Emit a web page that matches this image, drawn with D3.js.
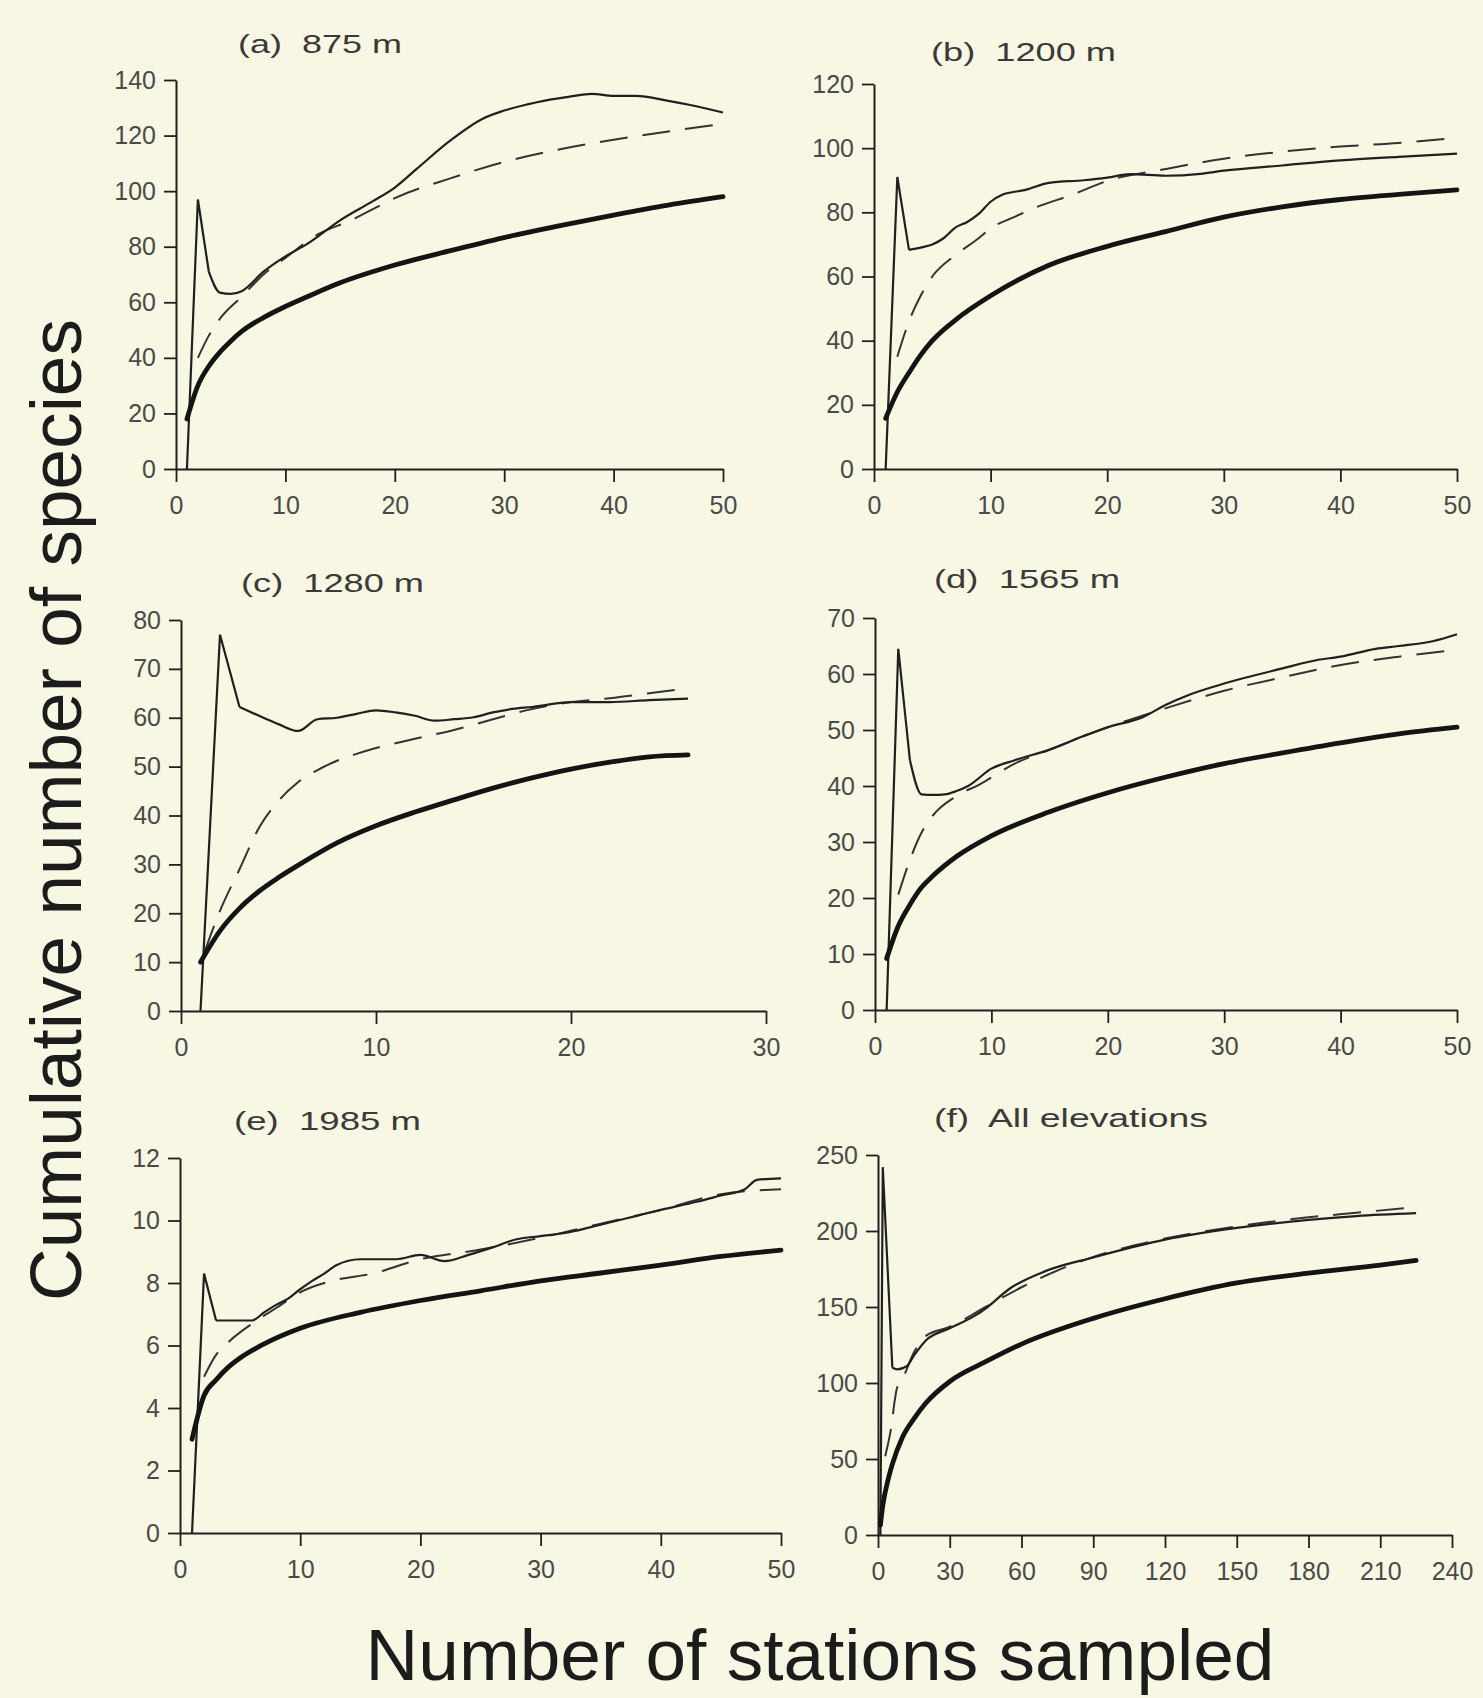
<!DOCTYPE html>
<html>
<head>
<meta charset="utf-8">
<script src="https://cdn.jsdelivr.net/npm/d3@7"></script>
<style>
  html, body { margin: 0; padding: 0; background: #f8f7e4; }
  svg { display: block; }
  text { font-family: "Liberation Sans", Arial, Helvetica, sans-serif; }
</style>
</head>
<body>
<svg id="chart" width="1483" height="1698"></svg>
<script>
// ---------------- DATA ----------------
const panelTitles = ["(a)  875 m", "(b)  1200 m", "(c)  1280 m", "(d)  1565 m", "(e)  1985 m", "(f)  All elevations"];
const yLabel = "Cumulative number of species";
const xLabel = "Number of stations sampled";

const yTicksA = [0, 20, 40, 60, 80, 100, 120, 140];
const yTicksB = [0, 20, 40, 60, 80, 100, 120];
const yTicksC = [0, 10, 20, 30, 40, 50, 60, 70, 80];
const yTicksD = [0, 10, 20, 30, 40, 50, 60, 70];
const yTicksE = [0, 2, 4, 6, 8, 10, 12];
const yTicksF = [0, 50, 100, 150, 200, 250];
const xTicks50 = [0, 10, 20, 30, 40, 50];
const xTicksC = [0, 10, 20, 30];
const xTicksF = [0, 30, 60, 90, 120, 150, 180, 210, 240];

// (a) 875 m : [stations, species]
const aObserved = [[1,18],[2,30],[3,37],[4,42],[5,46],[6,49.5],[8,54.5],[10,58.5],[12,62],[15,67],[20,73.4],[25,78.5],[30,83.3],[35,87.5],[40,91.4],[45,95],[50,98]];
const aEstimA   = [[1,0],[2,97],[3,71],[4,63.5],[5,63],[6,64],[8,71],[10,76.5],[12,81],[15,89.5],[18,96.4],[20,101.3],[22,108],[25,118],[28,126],[30,129],[33,132],[36,134],[38,135],[40,134.3],[42,134.3],[45,132.5],[47,131],[50,128.3]];
const aEstimB   = [[2,40],[3,48],[4,54],[6,62],[8,70],[10,76],[13,84.5],[16,89.5],[18,93.5],[20,97.5],[25,104.5],[30,110.5],[35,115],[40,118.5],[45,121.5],[50,124.2]];

// (b) 1200 m
const bObserved = [[1,15.8],[2,24],[3,30],[4,35.5],[5,40],[7,46.5],[10,54],[15,63.5],[20,69.4],[25,74],[30,78.5],[35,81.7],[40,84],[45,85.6],[50,87]];
const bEstimA   = [[1,0],[2,91],[3,68.3],[4,69],[5,70],[6,72],[7,75.3],[8,77],[9,79.6],[10,83.3],[11,85.5],[13,87],[15,89.2],[18,90],[20,90.8],[22,91.9],[25,91.4],[28,92],[30,93],[35,94.6],[40,96.2],[45,97.3],[50,98.3]];
const bEstimB   = [[2,35],[3,46],[4,54],[5,60],[7,66.7],[9,72],[10,75],[12,78.5],[14,81.7],[17,85.5],[20,89.8],[25,93.5],[30,96.7],[35,98.9],[40,100.5],[45,101.6],[50,103.2]];

// (c) 1280 m
const cObserved = [[1,10],[2,16.4],[3,21],[4,24.5],[5,27.3],[6,29.8],[8,34.4],[10,37.9],[12,40.7],[14,43.2],[16,45.6],[18,47.7],[20,49.5],[22,50.9],[24,52],[26,52.4]];
const cEstimA   = [[1,0],[2,77],[3,62.2],[4,60.4],[5,58.7],[6,57.3],[7,59.7],[8,60],[9,60.8],[10,61.5],[11,61.1],[12,60.4],[13,59.4],[14,59.7],[15,60.1],[16,61.1],[17,61.8],[18,62.2],[20,63.2],[22,63.2],[24,63.6],[26,63.9]];
const cEstimB   = [[1.2,12],[2,20.5],[3,29],[4,37.5],[5,43],[6,46.8],[7,49.3],[8,51.2],[9,52.6],[10,53.8],[12,55.7],[14,57.5],[16,59.7],[18,61.8],[20,63.2],[22,64],[24,65],[26,66]];

// (d) 1565 m
const dObserved = [[1,9.2],[2,15],[3,18.8],[4,21.9],[5,24],[7,27.4],[10,31.1],[15,35.4],[20,38.8],[25,41.6],[30,44],[35,45.9],[40,47.7],[45,49.3],[50,50.5]];
const dEstimA   = [[1,0],[2,64.5],[3,44.6],[4,38.5],[5,38.4],[6,38.5],[7,39.1],[8,40],[10,43.1],[12,44.6],[15,46.5],[18,49],[20,50.5],[23,52.3],[25,54.5],[27,56.3],[30,58.3],[35,61],[38,62.5],[40,63.1],[43,64.5],[45,65],[48,65.9],[50,67.1]];
const dEstimB   = [[2,20.6],[3,26.8],[4,31.7],[5,34.8],[7,38.2],[9,40.3],[12,44],[15,46.5],[20,50.5],[25,53.9],[30,57],[35,59.4],[40,61.6],[45,63.1],[50,64.3]];

// (e) 1985 m
const eObserved = [[1,3.0],[2,4.4],[3,4.9],[4,5.3],[5,5.6],[7,6.05],[10,6.55],[15,7.06],[20,7.44],[25,7.75],[30,8.07],[35,8.32],[40,8.57],[45,8.85],[50,9.05]];
const eEstimA   = [[1,0],[2,8.3],[3,6.8],[4,6.8],[5,6.8],[6,6.8],[7,7.06],[8,7.3],[9,7.5],[10,7.8],[11,8.07],[12,8.3],[13,8.57],[15,8.76],[18,8.76],[20,8.9],[22,8.7],[24,8.9],[26,9.14],[28,9.4],[30,9.5],[32,9.6],[34,9.77],[36,9.96],[38,10.15],[40,10.34],[43,10.6],[45,10.8],[47,11.0],[48,11.3],[50,11.35]];
const eEstimB   = [[2,5.0],[3,5.7],[4,6.1],[6,6.7],[8,7.2],[10,7.7],[13,8.1],[16,8.3],[20,8.76],[25,9.07],[30,9.45],[35,9.9],[40,10.34],[45,10.84],[50,11.0]];

// (f) All elevations
const fObserved = [[1,6.5],[2,19.4],[4,35],[6,46.6],[10,63.5],[15,76.4],[20,86.8],[30,101],[45,114],[60,125.6],[90,142.5],[120,155.4],[150,165.8],[180,172.3],[210,177.5],[225,180.6]];
const fEstimA   = [[1,0],[2,242],[6,110],[8,109],[12,111],[15,118],[20,128],[30,136],[40,143.8],[45,149],[55,162],[70,173.6],[90,182.6],[120,194.3],[150,202],[180,207.3],[200,209.8],[225,211.7]];
const fEstimB   = [[3,51.8],[5,66],[8,97],[10,102],[15,120],[20,131],[30,137],[45,150],[60,163],[90,183],[120,195],[150,203],[180,209],[200,212],[225,215.8]];

// ---------------- LAYOUT ----------------
const panels = [
  { title: panelTitles[0], tx: 238, ty: 53,  tw: 164, xd: [0,50],  yd: [0,140], xt: xTicks50, yt: yTicksA, x0: 176, x1: 723,  y0: 469,  y1: 80,   obs: aObserved, ea: aEstimA, eb: aEstimB },
  { title: panelTitles[1], tx: 931, ty: 61,  tw: 185, xd: [0,50],  yd: [0,120], xt: xTicks50, yt: yTicksB, x0: 874, x1: 1457, y0: 469,  y1: 84,   obs: bObserved, ea: bEstimA, eb: bEstimB },
  { title: panelTitles[2], tx: 241, ty: 592, tw: 183, xd: [0,30],  yd: [0,80],  xt: xTicksC,  yt: yTicksC, x0: 181, x1: 766,  y0: 1011, y1: 620,  obs: cObserved, ea: cEstimA, eb: cEstimB },
  { title: panelTitles[3], tx: 934, ty: 588, tw: 186, xd: [0,50],  yd: [0,70],  xt: xTicks50, yt: yTicksD, x0: 875, x1: 1457, y0: 1010, y1: 618,  obs: dObserved, ea: dEstimA, eb: dEstimB },
  { title: panelTitles[4], tx: 234, ty: 1130, tw: 187, xd: [0,50], yd: [0,12],  xt: xTicks50, yt: yTicksE, x0: 180, x1: 781,  y0: 1533, y1: 1158, obs: eObserved, ea: eEstimA, eb: eEstimB },
  { title: panelTitles[5], tx: 934, ty: 1127, tw: 274, xd: [0,240],yd: [0,250], xt: xTicksF,  yt: yTicksF, x0: 878, x1: 1452, y0: 1535, y1: 1155, obs: fObserved, ea: fEstimA, eb: fEstimB }
];

const svg = d3.select("#chart");
svg.append("rect").attr("width", 1483).attr("height", 1698).attr("fill", "#f8f7e4");

const ink = "#202020";
const tickInk = "#4a4a48";

panels.forEach(p => {
  const x = d3.scaleLinear().domain(p.xd).range([p.x0, p.x1]);
  const y = d3.scaleLinear().domain(p.yd).range([p.y0, p.y1]);
  const g = svg.append("g");

  // title
  g.append("text")
    .attr("x", p.tx).attr("y", p.ty)
    .attr("font-size", 25)
    .attr("fill", "#3a3a38")
    .attr("textLength", p.tw)
    .attr("lengthAdjust", "spacingAndGlyphs")
    .style("white-space", "pre")
    .text(p.title);

  // axes
  const yAxis = d3.axisLeft(y).tickValues(p.yt).tickSize(12).tickSizeOuter(0).tickPadding(8).tickFormat(d3.format("d"));
  const xAxis = d3.axisBottom(x).tickValues(p.xt).tickSize(13).tickSizeOuter(0).tickPadding(14).tickFormat(d3.format("d"));

  const ya = g.append("g").attr("transform", `translate(${p.x0},0)`).call(yAxis);
  const xa = g.append("g").attr("transform", `translate(0,${p.y0})`).call(xAxis);
  [ya, xa].forEach(a => {
    a.select(".domain").attr("stroke", ink).attr("stroke-width", 2);
    a.selectAll(".tick line").attr("stroke", ink).attr("stroke-width", 1.8);
    a.selectAll(".tick text").attr("font-size", 25).attr("fill", tickInk)
      .attr("font-family", "'Liberation Sans', Arial, sans-serif");
  });

  const smooth = d3.line().x(d => x(d[0])).y(d => y(d[1])).curve(d3.curveMonotoneX);
  const straight = d3.line().x(d => x(d[0])).y(d => y(d[1]));

  // dashed estimator
  g.append("path").datum(p.eb).attr("d", smooth)
    .attr("fill", "none").attr("stroke", "#333").attr("stroke-width", 2)
    .attr("stroke-dasharray", "28,15");
  // thin estimator: sharp spike then smooth continuation
  g.append("path").datum(p.ea.slice(0, 3)).attr("d", straight)
    .attr("fill", "none").attr("stroke", ink).attr("stroke-width", 2.2)
    .attr("stroke-linejoin", "miter");
  g.append("path").datum(p.ea.slice(2)).attr("d", smooth)
    .attr("fill", "none").attr("stroke", ink).attr("stroke-width", 2.2)
    .attr("stroke-linejoin", "round");
  // observed (thick)
  g.append("path").datum(p.obs).attr("d", smooth)
    .attr("fill", "none").attr("stroke", "#141414").attr("stroke-width", 4.8)
    .attr("stroke-linecap", "round");
});

// axis titles
svg.append("text")
  .attr("transform", "translate(81,810) rotate(-90)")
  .attr("text-anchor", "middle")
  .attr("font-size", 73)
  .attr("fill", "#1c1c1c")
  .text(yLabel);

svg.append("text")
  .attr("x", 820).attr("y", 1680)
  .attr("text-anchor", "middle")
  .attr("font-size", 73)
  .attr("fill", "#1c1c1c")
  .text(xLabel);
</script>
</body>
</html>
